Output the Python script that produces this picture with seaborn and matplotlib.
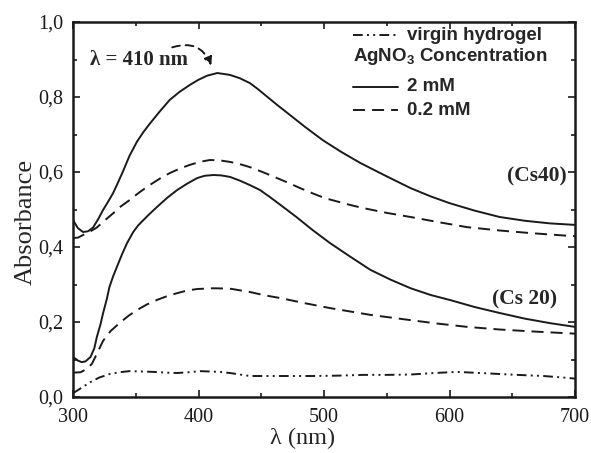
import matplotlib
matplotlib.use('Agg')
import matplotlib.pyplot as plt
import seaborn as sns
from matplotlib.lines import Line2D
from matplotlib.ticker import MultipleLocator

# Data (wavelength in nm, absorbance)
cs40_2mM_x = [300, 304, 308, 312, 316, 320, 324, 328, 332, 336, 340, 345, 351, 356, 361, 369, 377,
              385, 393, 400, 407, 415, 425, 433, 441, 447, 455, 463, 471, 485, 499, 514, 529, 549,
              569, 585, 600, 620, 640, 660, 680, 700]
cs40_2mM_y = [0.472, 0.450, 0.440, 0.442, 0.452, 0.474, 0.499, 0.521, 0.544, 0.573, 0.603, 0.643,
              0.681, 0.706, 0.728, 0.761, 0.792, 0.814, 0.832, 0.846, 0.857, 0.864, 0.859, 0.850,
              0.837, 0.822, 0.800, 0.778, 0.757, 0.720, 0.685, 0.653, 0.624, 0.590, 0.557, 0.535,
              0.517, 0.497, 0.480, 0.470, 0.463, 0.459]

cs40_02mM_x = [300, 304, 308, 313, 319, 325, 332, 338, 345, 353, 361, 369, 377, 385, 393, 401, 409,
               417, 425, 433, 441, 451, 461, 471, 481, 491, 501, 511, 521, 531, 550, 569, 590, 614,
               640, 665, 694, 700]
cs40_02mM_y = [0.424, 0.425, 0.432, 0.440, 0.452, 0.470, 0.490, 0.508, 0.525, 0.546, 0.565, 0.582,
               0.597, 0.609, 0.619, 0.627, 0.632, 0.631, 0.627, 0.621, 0.613, 0.600, 0.586, 0.572,
               0.557, 0.543, 0.530, 0.521, 0.512, 0.504, 0.491, 0.480, 0.467, 0.453, 0.444, 0.437,
               0.430, 0.429]

cs20_2mM_x = [300, 304, 307, 310, 314, 317, 319, 322, 324, 327, 329, 332, 335, 339, 343, 348, 352,
              360, 367, 375, 383, 391, 399, 405, 412, 418, 425, 433, 441, 449, 457, 465, 478, 491,
              505, 521, 537, 553, 569, 585, 600, 620, 640, 660, 680, 700]
cs20_2mM_y = [0.107, 0.097, 0.093, 0.095, 0.107, 0.130, 0.160, 0.195, 0.224, 0.262, 0.293, 0.322,
              0.347, 0.380, 0.410, 0.440, 0.458, 0.485, 0.507, 0.531, 0.552, 0.569, 0.584, 0.590,
              0.592, 0.591, 0.587, 0.577, 0.565, 0.552, 0.533, 0.513, 0.480, 0.445, 0.410, 0.374,
              0.339, 0.313, 0.290, 0.272, 0.259, 0.240, 0.224, 0.209, 0.197, 0.187]

cs20_02mM_x = [300, 306, 311, 315, 319, 324, 330, 337, 344, 351, 359, 367, 375, 383, 391, 399, 412,
               425, 441, 453, 465, 485, 505, 537, 569, 590, 614, 640, 665, 694, 700]
cs20_02mM_y = [0.065, 0.066, 0.075, 0.088, 0.115, 0.150, 0.176, 0.197, 0.216, 0.232, 0.247, 0.259,
               0.269, 0.277, 0.284, 0.288, 0.290, 0.289, 0.280, 0.271, 0.264, 0.250, 0.237, 0.219,
               0.205, 0.196, 0.187, 0.180, 0.175, 0.170, 0.169]

virgin_x = [300, 307, 314, 321, 329, 337, 345, 355, 364, 374, 383, 392, 401, 409, 417, 425, 433,
            441, 451, 471, 491, 511, 531, 550, 569, 588, 606, 630, 654, 675, 694, 700]
virgin_y = [0.010, 0.025, 0.040, 0.052, 0.061, 0.066, 0.069, 0.068, 0.067, 0.065, 0.064, 0.066,
            0.069, 0.068, 0.067, 0.064, 0.060, 0.056, 0.056, 0.056, 0.056, 0.057, 0.059, 0.059,
            0.060, 0.064, 0.067, 0.063, 0.059, 0.056, 0.051, 0.049]

xtick_vals = [300, 400, 500, 600, 700]
ytick_vals = [0.0, 0.2, 0.4, 0.6, 0.8, 1.0]
ytick_labels = ['0,0', '0,2', '0,4', '0,6', '0,8', '1,0']

sns.set_theme(style='ticks')
plt.rcParams['font.family'] = ['Liberation Serif', 'DejaVu Serif']
plt.rcParams['mathtext.fontset'] = 'custom'
plt.rcParams['mathtext.bf'] = 'Liberation Sans:bold'
plt.rcParams['mathtext.rm'] = 'Liberation Sans:bold'

solid = '-'
dashed = (0, (6.2, 3.6))
dashdotdot = (0, (5, 2.2, 1, 2.2, 1, 2.2))
lw = 1.4

fig, ax = plt.subplots(figsize=(5.91, 4.53), dpi=100)
fig.subplots_adjust(left=0.1235, right=0.973, bottom=0.1236, top=0.9514)

sns.lineplot(x=cs40_2mM_x, y=cs40_2mM_y, ax=ax, color='k', lw=lw, linestyle=solid, estimator=None)
sns.lineplot(x=cs40_02mM_x, y=cs40_02mM_y, ax=ax, color='k', lw=lw, linestyle=dashed, estimator=None)
sns.lineplot(x=cs20_2mM_x, y=cs20_2mM_y, ax=ax, color='k', lw=lw, linestyle=solid, estimator=None)
sns.lineplot(x=cs20_02mM_x, y=cs20_02mM_y, ax=ax, color='k', lw=lw, linestyle=dashed, estimator=None)
sns.lineplot(x=virgin_x, y=virgin_y, ax=ax, color='k', lw=lw, linestyle=dashdotdot, estimator=None)

ax.set_xlim(300, 700)
ax.set_ylim(0, 1.0)
ax.set_xticks(xtick_vals)
ax.set_yticks(ytick_vals)
ax.set_yticklabels(ytick_labels)
ax.xaxis.set_minor_locator(MultipleLocator(50))
ax.yaxis.set_minor_locator(MultipleLocator(0.1))
ax.tick_params(which='both', direction='in', top=True, right=True, width=1.2,
               labelsize=14.5, pad=7, colors='k')
ax.tick_params(axis='x', which='both', pad=8)
ax.tick_params(which='major', length=5)
ax.tick_params(which='minor', length=3)
for s in ax.spines.values():
    s.set_linewidth(1.8)
    s.set_color('k')

ax.set_xlabel('λ (nm)', fontsize=17.5)
ax.set_ylabel('Absorbance', fontsize=19)
ax.xaxis.set_label_coords(0.458, -0.082)
ax.yaxis.set_label_coords(-0.072, 0.467)

# Peak annotation
ax.text(313.5, 0.899, 'λ = 410 nm', fontsize=15, fontweight='bold', va='center', ha='left')
ax.annotate('', xy=(411, 0.877), xytext=(377, 0.93),
            arrowprops=dict(arrowstyle='-|>', connectionstyle='arc3,rad=-0.5',
                            linestyle=(0, (4, 3)), color='k', lw=1.4, mutation_scale=12))

ax.text(693, 0.587, '(Cs40)', fontsize=15.5, fontweight='bold', ha='right', va='center')
ax.text(686, 0.259, '(Cs 20)', fontsize=15.5, fontweight='bold', ha='right', va='center')

# Legend drawn by hand
sans = 'Liberation Sans'
rows = [(0.965, dashdotdot, 'virgin hydrogel'), (0.827, solid, '2 mM'), (0.765, dashed, '0.2 mM')]
for yy, ls, lab in rows:
    ax.add_line(Line2D([0.558, 0.647], [yy, yy], transform=ax.transAxes, color='k', lw=lw, linestyle=ls))
    ax.text(0.665, yy, lab, transform=ax.transAxes, family=sans, fontweight='bold',
            fontsize=13.5, va='center', ha='left')
ax.text(0.558, 0.907, r'AgNO$_\mathbf{3}$ Concentration', transform=ax.transAxes, family=sans,
        fontweight='bold', fontsize=13.5, va='center', ha='left')

fig.savefig('out.png', dpi=100)
